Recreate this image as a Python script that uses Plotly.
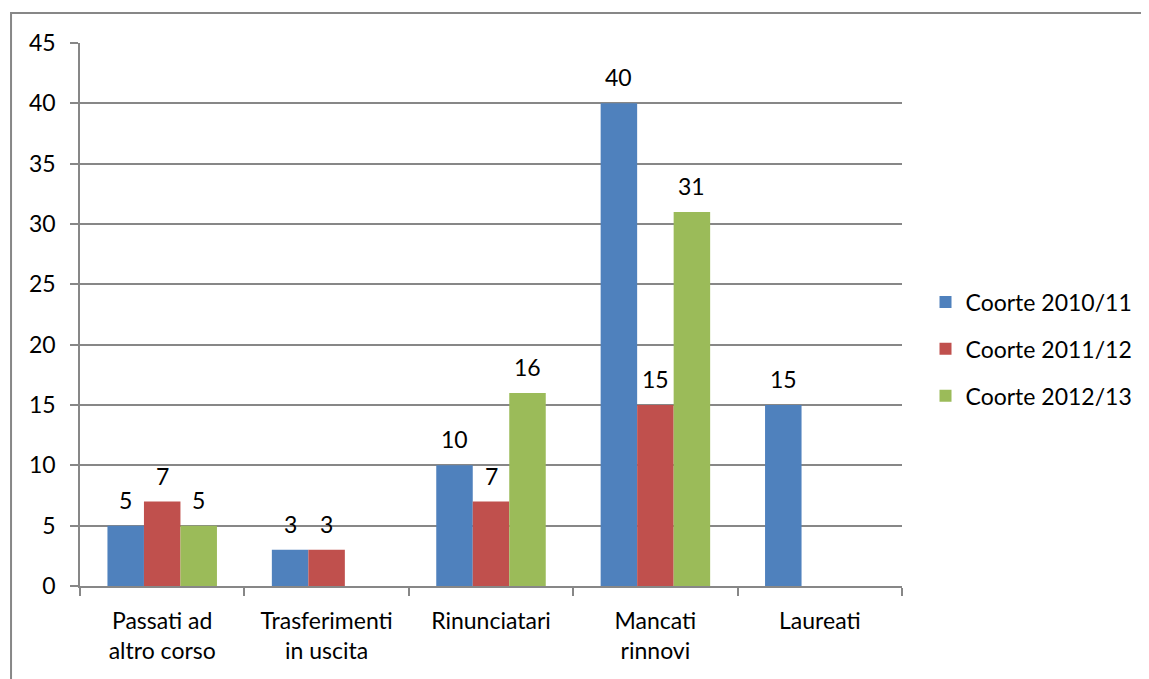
import plotly.graph_objects as go

categories = ['Passati ad<br>altro corso', 'Trasferimenti<br>in uscita', 'Rinunciatari',
              'Mancati<br>rinnovi', 'Laureati']
coorte_2010 = [5, 3, 10, 40, 15]
coorte_2011 = [7, 3, 7, 15, None]
coorte_2012 = [5, None, 16, 31, None]
series_names = ['Coorte 2010/11', 'Coorte 2011/12', 'Coorte 2012/13']
colors = ['#4F81BD', '#C0504D', '#9BBB59']
y_ticks = [0, 5, 10, 15, 20, 25, 30, 35, 40, 45]

FONT = 'Lato'
FS = 23
GRID = '#878787'
BAR_PX = 36.5  # width of one bar in pixels, for label offsets

fig = go.Figure()
annotations = []
for i, (name, vals, col) in enumerate(zip(series_names, [coorte_2010, coorte_2011, coorte_2012], colors)):
    fig.add_trace(go.Bar(
        x=categories, y=vals, name=name,
        marker=dict(color=col, line=dict(width=0)),
        legendgroup=name,
    ))
    # Excel-style data labels sitting a little above each bar
    for cat, v in zip(categories, vals):
        if v is None:
            continue
        annotations.append(dict(
            x=cat, y=v, xref='x', yref='y', text=str(v), showarrow=False,
            xshift=(i - 1) * BAR_PX, yshift=10, yanchor='bottom',
            font=dict(size=FS, color='#000000', family=FONT),
        ))

# page body has an 8px margin, so the figure is made a bit smaller
fig.update_layout(
    width=1141, height=671,
    barmode='group', bargap=0.334, bargroupgap=0,
    paper_bgcolor='white', plot_bgcolor='white',
    font=dict(family=FONT, size=FS, color='#000000'),
    margin=dict(l=72, r=246.5, t=35, b=93, autoexpand=False),
    showlegend=True,
    legend=dict(x=1.0286, xanchor='left', y=0.4365, yanchor='middle',
                font=dict(size=FS, family=FONT), tracegroupgap=14,
                itemwidth=30, bgcolor='rgba(0,0,0,0)'),
    xaxis=dict(
        type='category', showgrid=False, showline=True, linecolor=GRID, linewidth=1.5,
        ticks='outside', tickson='boundaries', ticklen=8, tickcolor=GRID, tickwidth=1.5,
        tickfont=dict(size=FS, family=FONT), automargin=False, ticklabelstandoff=14,
    ),
    yaxis=dict(
        range=[0, 45], tickvals=y_ticks, showgrid=True, gridcolor=GRID, gridwidth=1.5,
        showline=True, linecolor=GRID, linewidth=1.5, zeroline=False,
        ticks='outside', ticklen=8, tickcolor=GRID, tickwidth=1.5,
        tickfont=dict(size=FS, family=FONT), automargin=False, ticklabelstandoff=10,
    ),
    annotations=annotations,
    shapes=[dict(type='rect', xref='paper', yref='paper',
                 x0=-0.0839, x1=1.5, y0=-0.5, y1=1.0552,
                 line=dict(color=GRID, width=2), fillcolor='rgba(0,0,0,0)', layer='below')],
)

fig.write_html('out.html')
